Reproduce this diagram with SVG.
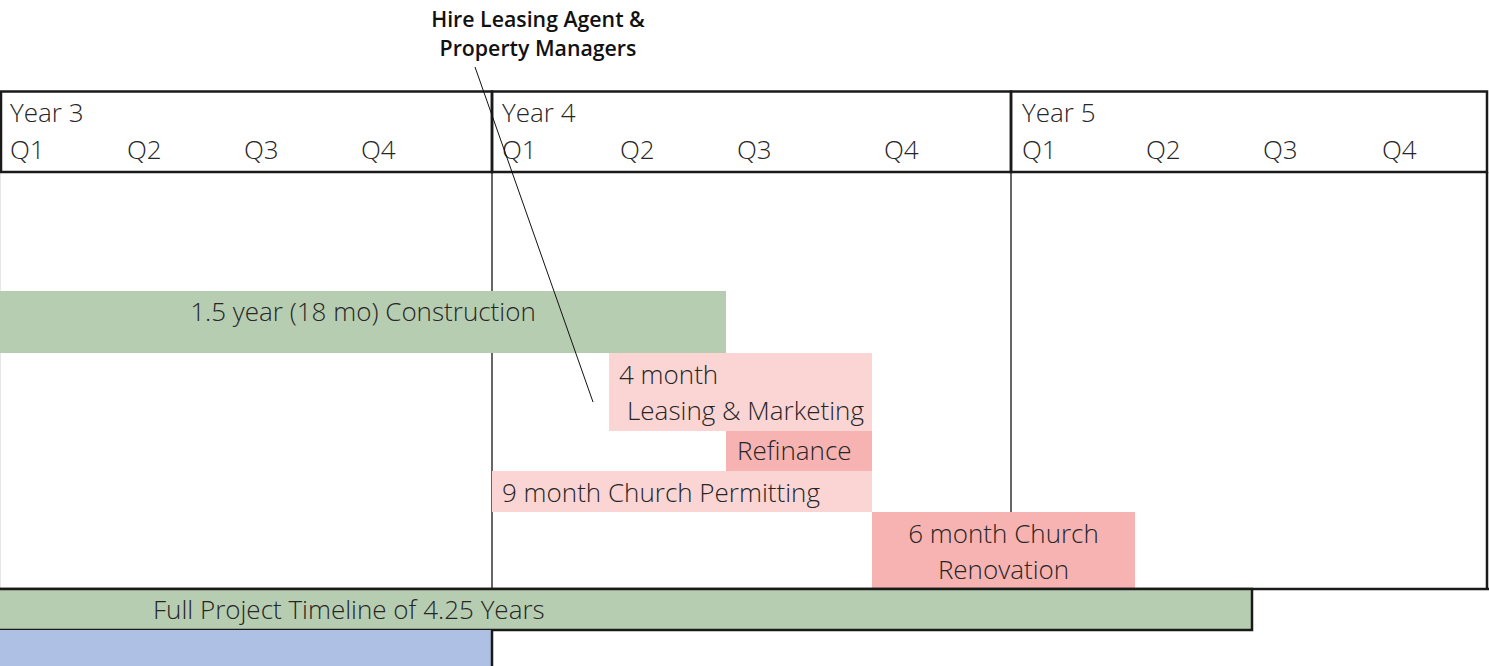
<svg xmlns="http://www.w3.org/2000/svg" width="1489" height="666" viewBox="0 0 1489 666">
<style>
.t{font-family:"Open Sans","Noto Sans",sans-serif;font-weight:300;font-size:26px;fill:#262626}
.b{font-family:"Open Sans","Noto Sans",sans-serif;font-weight:600;font-size:21.3px;fill:#111}
.grid{stroke:#e6e6e6;stroke-width:1}
.bold{stroke:#1a1a1a;stroke-width:2.5;fill:none}
.div{stroke:#333;stroke-width:1.5}
.green{fill:#b7cdb1}
.pink{fill:#fbd5d4}
.rose{fill:#f7b3b2}
.blue{fill:#aec0e3}
</style>
<rect width="1489" height="666" fill="#fff"/>
<g id="grid">
<line class="grid" x1="0.5" y1="172" x2="0.5" y2="589"/>
</g>
<g id="dividers">
<line class="div" x1="492" y1="172" x2="492" y2="589"/>
<line class="div" x1="1011" y1="172" x2="1011" y2="589"/>
<line class="bold" x1="1487" y1="172" x2="1487" y2="589"/>
</g>
<g id="header">
<rect class="bold" x="1" y="91.5" width="491" height="80.5"/>
<rect class="bold" x="492" y="91.5" width="519" height="80.5"/>
<rect class="bold" x="1011" y="91.5" width="476" height="80.5"/>
<text class="t" x="10" y="122">Year 3</text>
<text class="t" x="10" y="159">Q1</text>
<text class="t" x="127" y="159">Q2</text>
<text class="t" x="244" y="159">Q3</text>
<text class="t" x="361" y="159">Q4</text>
<text class="t" x="502" y="122">Year 4</text>
<text class="t" x="502" y="159">Q1</text>
<text class="t" x="620" y="159">Q2</text>
<text class="t" x="737" y="159">Q3</text>
<text class="t" x="884" y="159">Q4</text>
<text class="t" x="1022" y="122">Year 5</text>
<text class="t" x="1022" y="159">Q1</text>
<text class="t" x="1146" y="159">Q2</text>
<text class="t" x="1263" y="159">Q3</text>
<text class="t" x="1382" y="159">Q4</text>
</g>
<g id="construction">
<rect class="green" x="0" y="291" width="726" height="62"/>
<text class="t" x="363" y="321" text-anchor="middle">1.5 year (18 mo) Construction</text>
</g>
<g id="leasing">
<rect class="pink" x="609" y="353" width="263" height="78"/>
<text class="t" x="619" y="384">4 month</text>
<text class="t" x="627" y="420">Leasing &amp; Marketing</text>
</g>
<g id="refinance">
<rect class="rose" x="726" y="431" width="146" height="40"/>
<text class="t" x="737" y="460">Refinance</text>
</g>
<g id="permitting">
<rect class="pink" x="492" y="471" width="380" height="41"/>
<text class="t" x="502" y="502">9 month Church Permitting</text>
</g>
<g id="renovation">
<rect class="rose" x="872" y="512" width="263" height="77"/>
<text class="t" x="1003.5" y="543" text-anchor="middle">6 month Church</text>
<text class="t" x="1003.5" y="579" text-anchor="middle">Renovation</text>
</g>
<g id="bottom-rule">
<line class="bold" x1="0" y1="589" x2="1489" y2="589"/>
</g>
<g id="full-timeline">
<rect class="green" x="0" y="589" width="1253" height="41"/>
<rect class="bold" x="-2" y="589" width="1254" height="41"/>
<text class="t" x="153" y="619">Full Project Timeline of 4.25 Years</text>
</g>
<g id="blue-cell">
<rect class="blue" x="0" y="630" width="492" height="36"/>
<line class="bold" x1="492" y1="630" x2="492" y2="666"/>
</g>
<g id="hire-label">
<text class="b" x="538" y="27" text-anchor="middle">Hire Leasing Agent &amp;</text>
<text class="b" x="538" y="56" text-anchor="middle">Property Managers</text>
</g>
<g id="connectors">
<line x1="475" y1="67" x2="593" y2="402" stroke="#111" stroke-width="1"/>
</g>
</svg>
